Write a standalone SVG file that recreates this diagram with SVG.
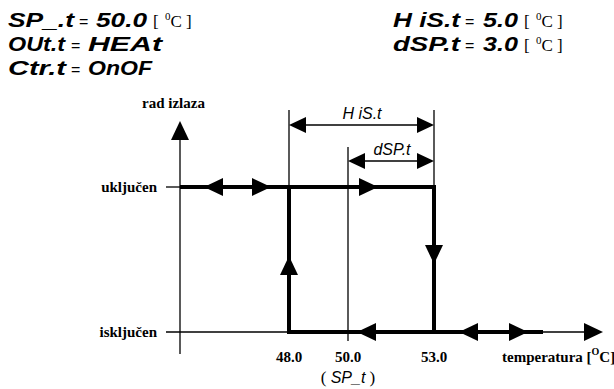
<svg xmlns="http://www.w3.org/2000/svg" xmlns:xlink="http://www.w3.org/1999/xlink" width="614" height="389" viewBox="0 0 614 389">
<style>
.seg{font-family:"Liberation Sans","DejaVu Sans",sans-serif;font-style:italic;font-weight:bold;font-size:20px;fill:#000}
.segt{font-family:"Liberation Sans","DejaVu Sans",sans-serif;font-style:italic;font-size:16px;fill:#000}
.eq{font-family:"Liberation Sans",sans-serif;font-size:16px;fill:#000}
.unit{font-family:"Liberation Serif",serif;font-size:17px;fill:#000}
.lbl{font-family:"Liberation Serif",serif;font-weight:bold;font-size:15px;fill:#000}
.thin{stroke:#000;stroke-width:1.3;fill:none}
.thick{stroke:#000;stroke-width:4;fill:none}
.ah{fill:#000}
</style>
<defs>
<path id="ar" d="M0,0 L-19,-9 L-19,9 Z"/>
<path id="ard" d="M0,0 L-17,-8 L-17,8 Z"/>
</defs>
<g id="params">
<text x="8" y="27" class="seg" textLength="66" lengthAdjust="spacingAndGlyphs">SP_.t</text>
<text x="79" y="27" class="eq">=</text>
<text x="96" y="27" class="seg" textLength="51" lengthAdjust="spacingAndGlyphs">50.0</text>
<text x="153" y="27" class="unit">[ <tspan font-size="11" dy="-7" dx="2">0</tspan><tspan dy="7">C ]</tspan></text>
<text x="8" y="51" class="seg" textLength="57" lengthAdjust="spacingAndGlyphs">OUt.t</text>
<text x="71" y="51" class="eq">=</text>
<text x="88" y="51" class="seg" textLength="74" lengthAdjust="spacingAndGlyphs">HEAt</text>
<text x="8" y="75" class="seg" textLength="58" lengthAdjust="spacingAndGlyphs">Ctr.t</text>
<text x="71" y="75" class="eq">=</text>
<text x="88" y="75" class="seg" textLength="64" lengthAdjust="spacingAndGlyphs">OnOF</text>
<text x="393" y="27" class="seg" textLength="67" lengthAdjust="spacingAndGlyphs">H iS.t</text>
<text x="465" y="27" class="eq">=</text>
<text x="483" y="27" class="seg" textLength="35" lengthAdjust="spacingAndGlyphs">5.0</text>
<text x="524" y="27" class="unit">[ <tspan font-size="11" dy="-7" dx="2">0</tspan><tspan dy="7">C ]</tspan></text>
<text x="393" y="51" class="seg" textLength="67" lengthAdjust="spacingAndGlyphs">dSP.t</text>
<text x="465" y="51" class="eq">=</text>
<text x="483" y="51" class="seg" textLength="35" lengthAdjust="spacingAndGlyphs">3.0</text>
<text x="524" y="51" class="unit">[ <tspan font-size="11" dy="-7" dx="2">0</tspan><tspan dy="7">C ]</tspan></text>
</g>
<g id="connectors">
<line class="thin" x1="180" y1="130" x2="180" y2="354"/>
<line class="thin" x1="166" y1="187" x2="180" y2="187"/>
<line class="thin" x1="166" y1="332" x2="289" y2="332"/>
<line class="thin" x1="543" y1="332" x2="590" y2="332"/>
<line class="thin" x1="289" y1="110" x2="289" y2="187"/>
<line class="thin" x1="434" y1="110" x2="434" y2="187"/>
<line class="thin" x1="348" y1="147" x2="348" y2="341"/>
<line class="thin" x1="295" y1="125" x2="428" y2="125"/>
<line class="thin" x1="354" y1="161" x2="428" y2="161"/>
<polyline class="thick" points="180,187 434,187 434,332"/>
<polyline class="thick" points="543,332 289,332 289,187"/>
<use href="#ar" class="ah" transform="translate(180,121) rotate(-90)"/>
<use href="#ar" class="ah" transform="translate(603,332)"/>
<use href="#ar" class="ah" transform="translate(204,187) rotate(180)"/>
<use href="#ar" class="ah" transform="translate(271,187)"/>
<use href="#ar" class="ah" transform="translate(378,187)"/>
<use href="#ar" class="ah" transform="translate(434,264) rotate(90)"/>
<use href="#ar" class="ah" transform="translate(289,256) rotate(-90)"/>
<use href="#ar" class="ah" transform="translate(357,332) rotate(180)"/>
<use href="#ar" class="ah" transform="translate(459,332) rotate(180)"/>
<use href="#ar" class="ah" transform="translate(528,332)"/>
<use href="#ard" class="ah" transform="translate(289,125) rotate(180)"/>
<use href="#ard" class="ah" transform="translate(434,125)"/>
<use href="#ard" class="ah" transform="translate(348,161) rotate(180)"/>
<use href="#ard" class="ah" transform="translate(434,161)"/>
</g>
<g id="axis-labels">
<text x="142" y="108" class="lbl">rad izlaza</text>
<text x="157" y="192" class="lbl" text-anchor="end">uključen</text>
<text x="157" y="337" class="lbl" text-anchor="end">isključen</text>
<text x="289" y="362" class="lbl" text-anchor="middle">48.0</text>
<text x="348" y="362" class="lbl" text-anchor="middle">50.0</text>
<text x="434" y="362" class="lbl" text-anchor="middle">53.0</text>
<text x="502" y="362" class="lbl">temperatura [<tspan font-size="10" dy="-7">O</tspan><tspan dy="7">C]</tspan></text>
<text x="348" y="383" class="unit" text-anchor="middle">( <tspan class="segt">SP_t</tspan> )</text>
<text x="362" y="119" class="segt" text-anchor="middle">H iS.t</text>
<text x="392" y="155" class="segt" text-anchor="middle">dSP.t</text>
</g>
</svg>
